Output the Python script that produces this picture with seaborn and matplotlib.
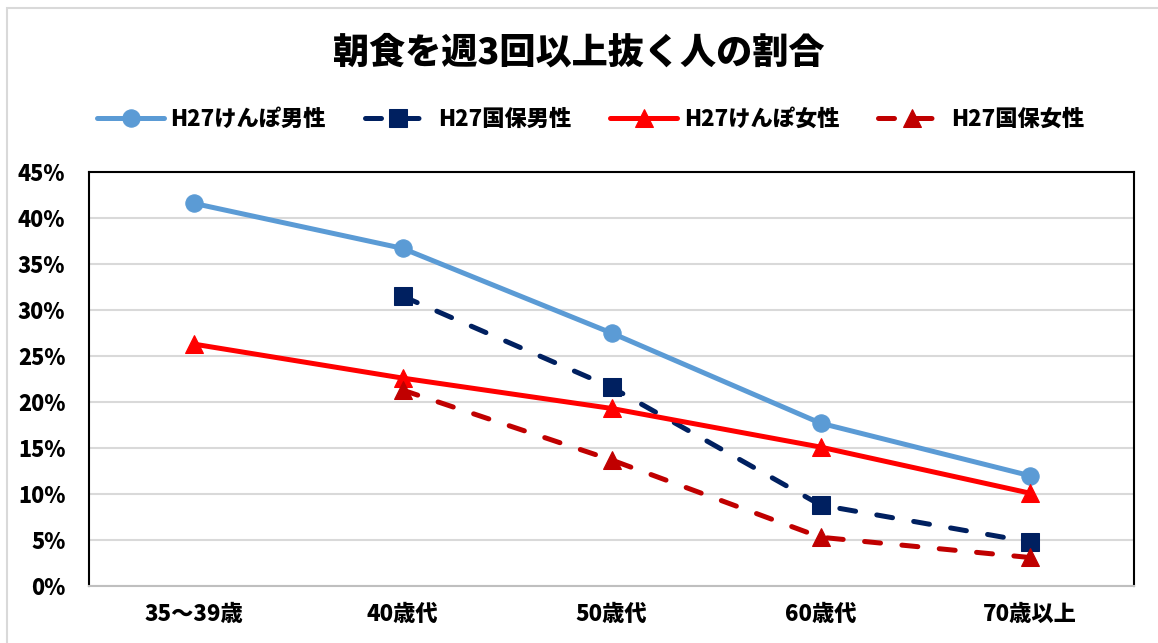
import pandas as pd
import matplotlib.pyplot as plt
import seaborn as sns
from matplotlib.patches import Rectangle

# データ
ages = ['35～39歳', '40歳代', '50歳代', '60歳代', '70歳以上']
kenpo_male = [41.6, 36.7, 27.5, 17.7, 12.0]
kokuho_male = [None, 31.5, 21.6, 8.8, 4.8]
kenpo_female = [26.3, 22.6, 19.3, 15.1, 10.1]
kokuho_female = [None, 21.3, 13.7, 5.3, 3.1]

series = [
    ('H27けんぽ男性', kenpo_male, '#5B9BD5', 'o', '-'),
    ('H27国保男性', kokuho_male, '#002060', 's', '--'),
    ('H27けんぽ女性', kenpo_female, '#FF0000', '^', '-'),
    ('H27国保女性', kokuho_female, '#C00000', '^', '--'),
]

sns.set_style('white')
plt.rcParams['font.family'] = ['Noto Sans CJK JP', 'DejaVu Sans']
plt.rcParams['font.weight'] = 'bold'
plt.rcParams['text.color'] = 'black'
plt.rcParams['xtick.color'] = 'black'
plt.rcParams['ytick.color'] = 'black'

fig = plt.figure(figsize=(11.58, 6.43), dpi=100)
ax = fig.add_axes([89 / 1158, 1 - 586 / 643, (1134 - 89) / 1158, (586 - 172) / 643])

for name, vals, color, marker, ls in series:
    df = pd.DataFrame({'x': range(len(ages)), 'y': vals}).dropna()
    sns.lineplot(data=df, x='x', y='y', ax=ax, color=color, marker=marker,
                 linestyle=ls, linewidth=3.6, markersize=12.5 if marker != '^' else 13,
                 markeredgecolor=color, label=name)

for ln in ax.lines:
    if ln.get_linestyle() == '--':
        ln.set_dashes((3.2, 4.3))
        ln.set_dash_capstyle('round')

ax.set_xlim(-0.5, 4.5)
ax.set_ylim(0, 45)
ax.set_xticks(range(len(ages)))
ax.set_xticklabels(ages, fontsize=16, fontweight='heavy')
ax.set_yticks(range(0, 46, 5))
ax.set_yticklabels([f'{v}%' for v in range(0, 46, 5)], fontsize=15.5, fontweight='heavy')
ax.tick_params(axis='x', pad=12, length=0)
ax.tick_params(axis='y', pad=17, length=0)
ax.set_xlabel('')
ax.set_ylabel('')
ax.yaxis.grid(True, color='#D9D9D9', linewidth=1.5)
ax.set_axisbelow(True)

for s in ['left', 'top', 'right']:
    ax.spines[s].set_color('black')
    ax.spines[s].set_linewidth(1.5)
ax.spines['bottom'].set_color('#BFBFBF')
ax.spines['bottom'].set_linewidth(1.5)

fig.text(0.5, 1 - 53 / 643, '朝食を週3回以上抜く人の割合', ha='center', va='center',
         fontsize=26, fontweight='heavy')

handles, labels = ax.get_legend_handles_labels()
ax.legend(handles, labels, ncol=4, loc='center', bbox_to_anchor=(0.5 + 12 / 1158, 1 - 119 / 643),
          bbox_transform=fig.transFigure, frameon=False,
          prop={'weight': 'heavy', 'size': 16}, handlelength=3.0, columnspacing=1.75,
          handletextpad=0.3)

# 外枠
fig.patches.append(Rectangle((7 / 1158, -0.1), 1.2, 1 - 8 / 643 + 0.1, transform=fig.transFigure,
                             fill=False, edgecolor='#D9D9D9', linewidth=1.5))

fig.savefig('out.png', dpi=100)
